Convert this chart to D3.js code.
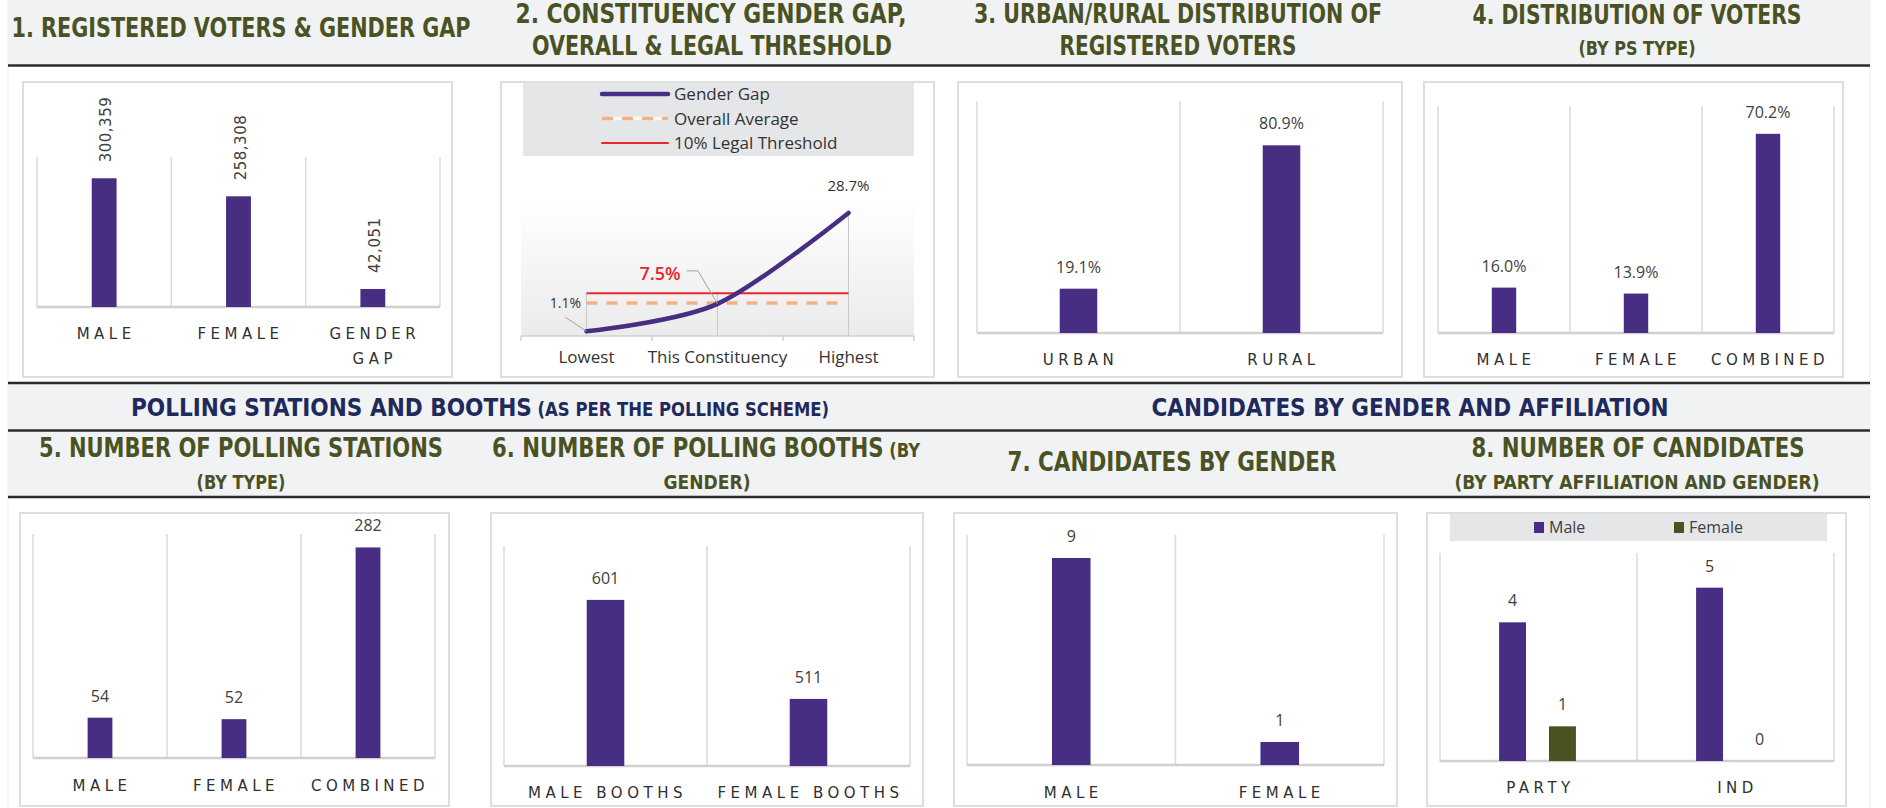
<!DOCTYPE html>
<html>
<head>
<meta charset="utf-8">
<script src="https://cdn.jsdelivr.net/npm/d3@7"></script>
<style>
  body { margin: 0; background: #fff; }
  svg { display: block; font-family: "Open Sans", sans-serif; }
</style>
</head>
<body>
<div id="chart"></div>
<script>
// 1. registered voters & gender gap
const voterCats = ['MALE', 'FEMALE', 'GENDER GAP'];
const voterValues = [300359, 258308, 42051];

// 2. constituency gender gap (%)
const gapCats = ['Lowest', 'This Constituency', 'Highest'];
const gapValues = [1.1, 7.5, 28.7];
const overallAverage = 7.7;
const legalThreshold = 10;

// 3. urban / rural distribution (%)
const areaCats = ['URBAN', 'RURAL'];
const areaValues = [19.1, 80.9];

// 4. distribution of voters by PS type (%)
const psTypeCats = ['MALE', 'FEMALE', 'COMBINED'];
const psTypeValues = [16.0, 13.9, 70.2];

// 5. polling stations by type
const stationCats = ['MALE', 'FEMALE', 'COMBINED'];
const stationValues = [54, 52, 282];

// 6. polling booths by gender
const boothCats = ['MALE BOOTHS', 'FEMALE BOOTHS'];
const boothValues = [601, 511];

// 7. candidates by gender
const candCats = ['MALE', 'FEMALE'];
const candValues = [9, 1];

// 8. candidates by affiliation and gender
const affCats = ['PARTY', 'IND'];
const affSeries = ['Male', 'Female'];
const affMale = [4, 5];
const affFemale = [1, 0];

const W = 1886, H = 808;
const purple = '#482e83';
const green = '#4a5222';
const olive = '#4a5224';
const navy = '#1f2a5c';
const bandFill = '#f1f2f4';
const titleFont = '"Liberation Sans Narrow","DejaVu Sans Condensed",sans-serif';
const catFont = '"DejaVu Sans",sans-serif';

const svg = d3.select('#chart')
  .append('svg')
  .attr('width', W)
  .attr('height', H);

// page edges
[8, 1870].forEach(x => {
  svg.append('line')
    .attr('x1', x).attr('x2', x).attr('y1', 0).attr('y2', H)
    .attr('stroke', '#ececec').attr('stroke-width', 1);
});

// header bands
[[0, 64.5], [384, 429.5], [432, 496]].forEach(b => {
  svg.append('rect')
    .attr('x', 8).attr('y', b[0])
    .attr('width', 1862).attr('height', b[1] - b[0])
    .attr('fill', bandFill);
});
[65.5, 383, 430.5, 497].forEach(y => {
  svg.append('line')
    .attr('x1', 8).attr('x2', 1870).attr('y1', y).attr('y2', y)
    .attr('stroke', '#2b2b2b').attr('stroke-width', 2.5);
});

// panels
const panels = [
  [23, 82, 452, 377], [501, 82, 934, 377], [958, 82, 1402, 377], [1424, 82, 1843, 377],
  [20, 513, 449, 806], [491, 513, 923, 806], [954, 513, 1397, 806], [1427, 513, 1846, 806]
];
panels.forEach(p => {
  svg.append('rect')
    .attr('x', p[0]).attr('y', p[1])
    .attr('width', p[2] - p[0]).attr('height', p[3] - p[1])
    .attr('fill', '#fff')
    .attr('stroke', '#dedede').attr('stroke-width', 2);
});

// titles (a title may carry a smaller trailing part)
function title(t) {
  const txt = svg.append('text')
    .attr('x', t.x)
    .attr('y', t.y + t.size * 0.36)
    .attr('text-anchor', t.anchor || 'middle')
    .attr('font-family', titleFont)
    .attr('font-weight', 700)
    .attr('font-size', t.size)
    .attr('fill', t.color || olive)
    .attr('textLength', t.w)
    .attr('lengthAdjust', 'spacingAndGlyphs');
  txt.append('tspan').text(t.text);
  if (t.small) {
    txt.append('tspan').attr('font-size', t.smallSize).text(t.small);
  }
}
[
  { x: 241, y: 28, text: '1. REGISTERED VOTERS & GENDER GAP', size: 26, w: 459 },
  { x: 711, y: 13.5, text: '2. CONSTITUENCY GENDER GAP,', size: 26, w: 391 },
  { x: 712, y: 46, text: 'OVERALL & LEGAL THRESHOLD', size: 26, w: 360 },
  { x: 1178, y: 13.5, text: '3. URBAN/RURAL DISTRIBUTION OF', size: 26, w: 408 },
  { x: 1178, y: 46, text: 'REGISTERED VOTERS', size: 26, w: 237 },
  { x: 1637, y: 15, text: '4. DISTRIBUTION OF VOTERS', size: 26, w: 329 },
  { x: 1637, y: 48, text: '(BY PS TYPE)', size: 20, w: 117 },
  { x: 131, y: 407, text: 'POLLING STATIONS AND BOOTHS', small: ' (AS PER THE POLLING SCHEME)', smallSize: 19, size: 25, w: 698, anchor: 'start', color: navy },
  { x: 1410, y: 407, text: 'CANDIDATES BY GENDER AND AFFILIATION', size: 25, w: 517, color: navy },
  { x: 241, y: 448, text: '5. NUMBER OF POLLING STATIONS', size: 26, w: 404 },
  { x: 241, y: 482, text: '(BY TYPE)', size: 20, w: 89 },
  { x: 492, y: 448, text: '6. NUMBER OF POLLING BOOTHS', small: ' (BY', smallSize: 20, size: 26, w: 428, anchor: 'start' },
  { x: 707, y: 482, text: 'GENDER)', size: 20, w: 87 },
  { x: 1172, y: 462, text: '7. CANDIDATES BY GENDER', size: 26, w: 329 },
  { x: 1638, y: 448, text: '8. NUMBER OF CANDIDATES', size: 26, w: 333 },
  { x: 1637, y: 482, text: '(BY PARTY AFFILIATION AND GENDER)', size: 20, w: 365 }
].forEach(title);

// simple bar panels
function barChart(cfg) {
  const g = svg.append('g');
  const x = d3.scaleBand().domain(cfg.cats).range([cfg.x0, cfg.x1]);
  const y = d3.scaleLinear().domain(cfg.domain).range([cfg.base, cfg.top]);
  const bw = x.bandwidth() * 0.185;
  const data = cfg.cats.map((c, i) => ({ cat: c, value: cfg.values[i] }));

  // vertical gridlines at category borders
  const edges = cfg.cats.map(c => x(c)).concat([cfg.x1]);
  g.selectAll('.grid')
    .data(edges)
    .enter()
    .append('line')
    .attr('x1', d => d).attr('x2', d => d)
    .attr('y1', cfg.top).attr('y2', cfg.base)
    .attr('stroke', '#dadada').attr('stroke-width', 1.5);

  g.append('line')
    .attr('x1', cfg.x0).attr('x2', cfg.x1)
    .attr('y1', cfg.base).attr('y2', cfg.base)
    .attr('stroke', '#d0d0d0').attr('stroke-width', 2.5);

  g.selectAll('.bar')
    .data(data)
    .enter()
    .append('rect')
    .attr('x', d => x(d.cat) + x.bandwidth() / 2 - bw / 2)
    .attr('y', d => y(d.value))
    .attr('width', bw)
    .attr('height', d => cfg.base - y(d.value))
    .attr('fill', purple);

  const labels = g.selectAll('.val')
    .data(data)
    .enter()
    .append('text')
    .attr('fill', '#404040')
    .text(d => cfg.fmt(d.value));

  if (cfg.rotate) {
    labels
      .attr('font-family', catFont)
      .attr('font-size', 15)
      .attr('letter-spacing', 0.5)
      .attr('dominant-baseline', 'central')
      .attr('transform', d => `translate(${x(d.cat) + x.bandwidth() / 2 + 2},${y(d.value) - 16}) rotate(-90)`);
  } else {
    labels
      .attr('font-size', 16)
      .attr('text-anchor', 'middle')
      .attr('x', d => x(d.cat) + x.bandwidth() / 2)
      .attr('y', d => y(d.value) - 16);
  }

  const cat = g.selectAll('.cat')
    .data(data)
    .enter()
    .append('text')
    .attr('font-family', catFont)
    .attr('font-size', 15)
    .attr('letter-spacing', 4.5)
    .attr('fill', '#303030')
    .attr('text-anchor', 'middle');

  cat.selectAll('tspan')
    .data(d => d.cat.split(' ').length > 1 && cfg.wrap ? d.cat.split(' ').map(w => ({ w, d })) : [{ w: d.cat, d }])
    .enter()
    .append('tspan')
    .attr('x', t => x(t.d.cat) + x.bandwidth() / 2 + 2)
    .attr('y', (t, i) => cfg.catY + 5.5 + i * 25)
    .text(t => t.w);
}

barChart({
  cats: voterCats, values: voterValues,
  x0: 37, x1: 440, top: 157, base: 307, domain: [0, 350000],
  catY: 333, fmt: d3.format(','), rotate: true, wrap: true
});
barChart({
  cats: areaCats, values: areaValues,
  x0: 977, x1: 1383, top: 101, base: 333, domain: [0, 100],
  catY: 359, fmt: d => d.toFixed(1) + '%'
});
barChart({
  cats: psTypeCats, values: psTypeValues,
  x0: 1438, x1: 1834, top: 106, base: 333, domain: [0, 80],
  catY: 359, fmt: d => d.toFixed(1) + '%'
});
barChart({
  cats: stationCats, values: stationValues,
  x0: 33, x1: 435, top: 534, base: 758, domain: [0, 300],
  catY: 785, fmt: d3.format('d')
});
barChart({
  cats: boothCats, values: boothValues,
  x0: 504, x1: 910, top: 546, base: 766, domain: [450, 650],
  catY: 792, fmt: d3.format('d')
});
barChart({
  cats: candCats, values: candValues,
  x0: 967, x1: 1384, top: 535, base: 765, domain: [0, 10],
  catY: 792, fmt: d3.format('d')
});

// 8. grouped bars
(function () {
  const g = svg.append('g');
  const x0 = 1440, x1 = 1834, top = 553, base = 761;
  const x = d3.scaleBand().domain(affCats).range([x0, x1]);
  const xi = d3.scaleBand().domain(affSeries)
    .range([x.bandwidth() * 0.3, x.bandwidth() * 0.69]).paddingInner(0.46);
  const y = d3.scaleLinear().domain([0, 6]).range([base, top]);
  const color = d3.scaleOrdinal().domain(affSeries).range([purple, green]);

  // legend
  g.append('rect')
    .attr('x', 1450).attr('y', 514).attr('width', 377).attr('height', 27)
    .attr('fill', '#e5e6e8');
  const leg = g.selectAll('.leg')
    .data(affSeries)
    .enter()
    .append('g')
    .attr('transform', (d, i) => `translate(${1534 + i * 140},527.5)`);
  leg.append('rect')
    .attr('x', 0).attr('y', -5.5).attr('width', 10).attr('height', 11)
    .attr('fill', d => color(d));
  leg.append('text')
    .attr('x', 15).attr('y', 5.5)
    .attr('font-size', 16).attr('fill', '#404040')
    .text(d => d);

  const edges = affCats.map(c => x(c)).concat([x1]);
  g.selectAll('.grid')
    .data(edges)
    .enter()
    .append('line')
    .attr('x1', d => d).attr('x2', d => d)
    .attr('y1', top).attr('y2', base)
    .attr('stroke', '#dadada').attr('stroke-width', 1.5);
  g.append('line')
    .attr('x1', x0).attr('x2', x1).attr('y1', base).attr('y2', base)
    .attr('stroke', '#d0d0d0').attr('stroke-width', 2.5);

  const rows = affCats.map((c, i) => ({ cat: c, vals: [affMale[i], affFemale[i]] }));
  const grp = g.selectAll('.grp')
    .data(rows)
    .enter()
    .append('g')
    .attr('transform', d => `translate(${x(d.cat)},0)`);
  const cells = grp.selectAll('.cell')
    .data(d => affSeries.map((s, j) => ({ s, v: d.vals[j] })))
    .enter();
  cells.append('rect')
    .attr('x', d => xi(d.s))
    .attr('y', d => y(d.v))
    .attr('width', xi.bandwidth())
    .attr('height', d => base - y(d.v))
    .attr('fill', d => color(d.s));
  cells.append('text')
    .attr('x', d => xi(d.s) + xi.bandwidth() / 2)
    .attr('y', d => y(d.v) - 16)
    .attr('text-anchor', 'middle')
    .attr('font-size', 16).attr('fill', '#404040')
    .text(d => d.v);

  g.selectAll('.cat')
    .data(affCats)
    .enter()
    .append('text')
    .attr('x', d => x(d) + x.bandwidth() / 2 + 2)
    .attr('y', 787 + 5.5)
    .attr('text-anchor', 'middle')
    .attr('font-family', catFont).attr('font-size', 15)
    .attr('letter-spacing', 4.5).attr('fill', '#303030')
    .text(d => d);
})();

// 2. gender gap line
(function () {
  const g = svg.append('g');
  const left = 521, right = 914, base = 336;
  const x = d3.scalePoint().domain(gapCats).range([left, right]).padding(0.5);
  const y = d3.scaleLinear().domain([0, d3.max(gapValues)]).range([base, 213]);
  const step = x.step();

  const defs = svg.append('defs');
  const grad = defs.append('linearGradient')
    .attr('id', 'plotGrad').attr('x1', 0).attr('x2', 0).attr('y1', 0).attr('y2', 1);
  grad.append('stop').attr('offset', '0%').attr('stop-color', '#ffffff');
  grad.append('stop').attr('offset', '100%').attr('stop-color', '#ebebeb');
  g.append('rect')
    .attr('x', left).attr('y', 200).attr('width', right - left).attr('height', base - 200)
    .attr('fill', 'url(#plotGrad)');

  // legend
  g.append('rect')
    .attr('x', 523).attr('y', 83).attr('width', 391).attr('height', 73)
    .attr('fill', '#e5e6e8');
  const legendItems = [
    { name: 'Gender Gap', color: purple, width: 4.5, dash: null },
    { name: 'Overall Average', color: '#f4b183', width: 3.5, dash: '11,9' },
    { name: '10% Legal Threshold', color: '#e8262c', width: 2, dash: null }
  ];
  const leg = g.selectAll('.leg')
    .data(legendItems)
    .enter()
    .append('g')
    .attr('transform', (d, i) => `translate(602,${94 + i * 24.5})`);
  leg.filter(d => d.dash)
    .append('line')
    .attr('x1', 0).attr('x2', 66).attr('stroke', '#f7f7f7').attr('stroke-width', 3.5);
  leg.append('line')
    .attr('x1', 0).attr('x2', 66)
    .attr('stroke', d => d.color)
    .attr('stroke-width', d => d.width)
    .attr('stroke-dasharray', d => d.dash)
    .attr('stroke-linecap', d => d.dash ? 'butt' : 'round');
  leg.append('text')
    .attr('x', 72).attr('y', 6)
    .attr('font-size', 17).attr('fill', '#333')
    .text(d => d.name);

  // axis with ticks on category borders
  g.append('line')
    .attr('x1', left).attr('x2', right).attr('y1', base).attr('y2', base)
    .attr('stroke', '#d0d0d0').attr('stroke-width', 1.5);
  const borders = gapCats.map(c => x(c) - step / 2).concat([right]);
  g.selectAll('.tick')
    .data(borders)
    .enter()
    .append('line')
    .attr('x1', d => d).attr('x2', d => d).attr('y1', base).attr('y2', base + 5)
    .attr('stroke', '#d0d0d0').attr('stroke-width', 1.5);
  g.selectAll('.xlab')
    .data(gapCats)
    .enter()
    .append('text')
    .attr('x', d => x(d)).attr('y', 363)
    .attr('text-anchor', 'middle')
    .attr('font-size', 17).attr('fill', '#333')
    .text(d => d);

  // drop lines
  g.selectAll('.drop')
    .data(gapValues)
    .enter()
    .append('line')
    .attr('x1', (d, i) => x(gapCats[i])).attr('x2', (d, i) => x(gapCats[i]))
    .attr('y1', d => Math.min(y(d), y(legalThreshold)))
    .attr('y2', base)
    .attr('stroke', '#c8c8c8').attr('stroke-width', 1);

  const xFirst = x(gapCats[0]), xLast = x(gapCats[gapCats.length - 1]);
  g.append('line')
    .attr('x1', xFirst).attr('x2', xLast - 10)
    .attr('y1', y(overallAverage)).attr('y2', y(overallAverage))
    .attr('stroke', '#f4b183').attr('stroke-width', 3.5)
    .attr('stroke-dasharray', '11,9');
  g.append('line')
    .attr('x1', xFirst).attr('x2', xLast)
    .attr('y1', y(legalThreshold)).attr('y2', y(legalThreshold))
    .attr('stroke', '#e8262c').attr('stroke-width', 2);

  const line = d3.line()
    .x((d, i) => x(gapCats[i]))
    .y(d => y(d))
    .curve(d3.curveCardinal.tension(0.1));
  g.append('path')
    .datum(gapValues)
    .attr('d', line)
    .attr('fill', 'none')
    .attr('stroke', purple)
    .attr('stroke-width', 4.5)
    .attr('stroke-linecap', 'round');

  // point labels with leaders
  const p0 = [x(gapCats[0]), y(gapValues[0])];
  g.append('path')
    .attr('d', `M${p0[0] - 21},${p0[1] - 14}L${p0[0]},${p0[1]}`)
    .attr('fill', 'none').attr('stroke', '#a0a0a0').attr('stroke-width', 1);
  g.append('text')
    .attr('x', p0[0] - 21).attr('y', p0[1] - 23)
    .attr('text-anchor', 'middle')
    .attr('font-size', 14).attr('fill', '#333')
    .text(gapValues[0].toFixed(1) + '%');

  const p1 = [x(gapCats[1]), y(gapValues[1])];
  g.append('path')
    .attr('d', `M${p1[0] - 31},${p1[1] - 33}H${p1[0] - 19.5}L${p1[0]},${p1[1]}`)
    .attr('fill', 'none').attr('stroke', '#a0a0a0').attr('stroke-width', 1);
  g.append('text')
    .attr('x', p1[0] - 57.5).attr('y', p1[1] - 23.5)
    .attr('text-anchor', 'middle')
    .attr('font-size', 18).attr('font-weight', 600).attr('fill', '#e8262c')
    .text(gapValues[1].toFixed(1) + '%');

  const p2 = [x(gapCats[2]), y(gapValues[2])];
  g.append('text')
    .attr('x', p2[0]).attr('y', p2[1] - 22.5)
    .attr('text-anchor', 'middle')
    .attr('font-size', 15).attr('fill', '#333')
    .text(gapValues[2].toFixed(1) + '%');
})();
</script>
</body>
</html>
